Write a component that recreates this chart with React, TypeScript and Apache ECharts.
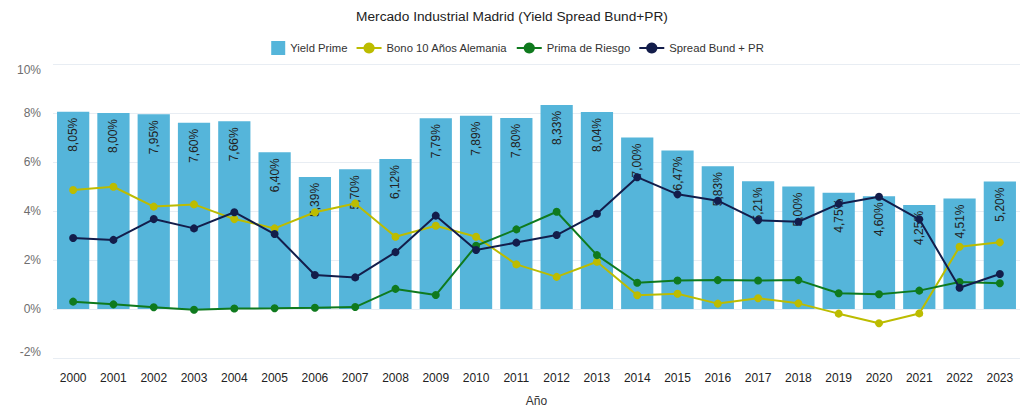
import React, { useEffect, useRef } from "react";
import * as echarts from "echarts";

const years = ["2000","2001","2002","2003","2004","2005","2006","2007","2008","2009","2010","2011","2012","2013","2014","2015","2016","2017","2018","2019","2020","2021","2022","2023"];
const yieldPrime = [8.05,8.00,7.95,7.60,7.66,6.40,5.39,5.70,6.12,7.79,7.89,7.80,8.33,8.04,7.00,6.47,5.83,5.21,5.00,4.75,4.60,4.25,4.51,5.20];
const bono10 = [4.86,4.99,4.18,4.27,3.67,3.29,3.95,4.31,2.95,3.40,2.95,1.82,1.31,1.93,0.56,0.62,0.22,0.44,0.23,-0.19,-0.58,-0.18,2.54,2.72];
const primaRiesgo = [0.30,0.19,0.07,-0.03,0.02,0.03,0.05,0.08,0.82,0.57,2.58,3.25,3.97,2.20,1.07,1.16,1.18,1.16,1.18,0.64,0.60,0.75,1.10,1.05];
const spread = [2.90,2.82,3.67,3.29,3.95,3.06,1.39,1.29,2.32,3.81,2.41,2.71,3.02,3.89,5.38,4.68,4.42,3.62,3.56,4.29,4.58,3.66,0.87,1.43];

const FONT = "'Liberation Sans', Arial, sans-serif";

export default function App() {
  const ref = useRef<HTMLDivElement>(null);
  useEffect(() => {
    if (!ref.current) return;
    const chart = echarts.init(ref.current, null, { renderer: "svg" });
    const fmt = (v: number) => v.toFixed(2).replace(".", ",") + "%";
    chart.setOption({
      animation: false,
      textStyle: { fontFamily: FONT },
      title: {
        text: "Mercado Industrial Madrid (Yield Spread Bund+PR)",
        left: "center",
        top: 4,
        textStyle: { fontSize: 13.7, fontWeight: "normal", color: "#222", fontFamily: FONT },
      },
      legend: {
        top: 36,
        left: "center",
        itemGap: 8,
        itemWidth: 25,
        itemHeight: 14,
        textStyle: { fontSize: 11.3, color: "#333", fontFamily: FONT },
        data: [
          { name: "Yield Prime", icon: "path://M0,0M11,0L25,0L25,14L11,14Z" },
          { name: "Bono 10 Años Alemania" },
          { name: "Prima de Riesgo" },
          { name: "Spread Bund + PR" },
        ],
      },
      grid: { left: 53, right: 4, top: 64, bottom: 59, containLabel: false },
      xAxis: {
        type: "category",
        data: years,
        name: "Año",
        nameLocation: "middle",
        nameGap: 37,
        nameTextStyle: { fontSize: 12, color: "#333", fontFamily: FONT },
        axisLine: { show: false },
        axisTick: { show: false },
        axisLabel: { fontSize: 12, color: "#222", margin: 14, interval: 0, fontFamily: FONT },
      },
      yAxis: {
        type: "value",
        min: -2,
        max: 10,
        interval: 2,
        axisLine: { show: false },
        axisTick: { show: false },
        axisLabel: {
          formatter: "{value}%",
          fontSize: 12,
          color: "#6e6e6e",
          margin: 12,
          fontFamily: FONT,
          verticalAlignMaxLabel: "top",
          verticalAlignMinLabel: "bottom",
        },
        splitLine: { lineStyle: { color: "#e8edf3", width: 1 } },
      },
      series: [
        {
          name: "Yield Prime",
          type: "bar",
          data: yieldPrime,
          barCategoryGap: "20%",
          itemStyle: { color: "#55b5da" },
          label: {
            show: true,
            position: "insideTop",
            rotate: 90,
            align: "right",
            verticalAlign: "middle",
            distance: 6,
            fontSize: 12,
            color: "#222",
            fontFamily: FONT,
            formatter: (p: any) => fmt(p.value),
          },
          z: 1,
        },
        {
          name: "Bono 10 Años Alemania",
          type: "line",
          data: bono10,
          symbol: "circle",
          symbolSize: 8,
          itemStyle: { color: "#bcbc00" },
          lineStyle: { color: "#bcbc00", width: 2 },
          z: 3,
        },
        {
          name: "Prima de Riesgo",
          type: "line",
          data: primaRiesgo,
          symbol: "circle",
          symbolSize: 8,
          itemStyle: { color: "#0f7a1e" },
          lineStyle: { color: "#0f7a1e", width: 2 },
          z: 4,
        },
        {
          name: "Spread Bund + PR",
          type: "line",
          data: spread,
          symbol: "circle",
          symbolSize: 8,
          itemStyle: { color: "#131d4b" },
          lineStyle: { color: "#131d4b", width: 2 },
          z: 5,
        },
      ],
    });
    return () => chart.dispose();
  }, []);
  return <div ref={ref} style={{ width: 1024, height: 417, position: "absolute", left: 0, top: 0 }} />;
}
